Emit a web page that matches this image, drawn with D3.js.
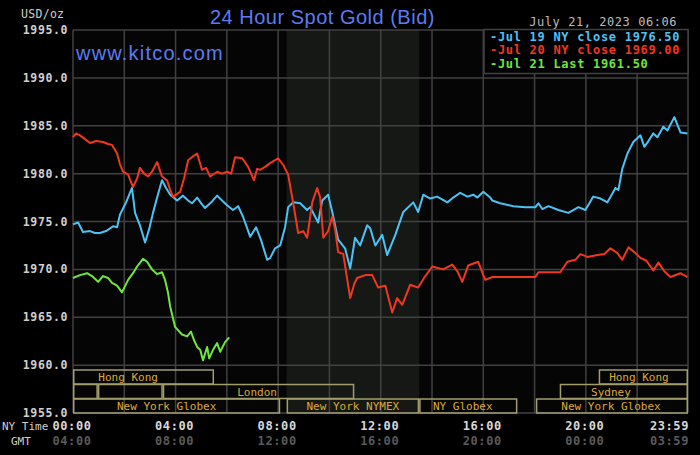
<!DOCTYPE html>
<html>
<head>
<meta charset="utf-8">
<script src="https://cdn.jsdelivr.net/npm/d3@7"></script>
<style>
  html, body { margin: 0; padding: 0; background: #000; }
  svg { display: block; }
</style>
</head>
<body>
<div id="chart"></div>
<script>
// hours are NY time, 0 = 00:00, 23.983 = 23:59
var jul19_hours = [0, 0.2, 0.39, 0.66, 0.86, 1.05, 1.29, 1.56, 1.72, 1.83, 2.07, 2.3, 2.42, 2.61, 2.81, 2.97, 3.12, 3.28, 3.47, 3.63, 3.79, 4.06, 4.29, 4.49, 4.64, 4.84, 5.0, 5.15, 5.39, 5.62, 5.81, 6.01, 6.24, 6.44, 6.63, 6.79, 6.91, 7.14, 7.34, 7.57, 7.69, 7.88, 8.08, 8.27, 8.39, 8.59, 8.86, 9.13, 9.25, 9.56, 9.72, 9.95, 10.11, 10.34, 10.61, 10.81, 11.0, 11.2, 11.47, 11.59, 11.79, 12.06, 12.25, 12.57, 12.88, 13.27, 13.46, 13.66, 13.93, 14.2, 14.6, 14.83, 15.1, 15.38, 15.61, 15.77, 16.0, 16.27, 16.35, 16.66, 17.17, 17.64, 18.03, 18.15, 18.3, 18.54, 18.93, 19.32, 19.71, 19.98, 20.29, 20.57, 20.84, 21.03, 21.15, 21.27, 21.42, 21.62, 21.85, 22.13, 22.28, 22.44, 22.63, 22.79, 23.02, 23.18, 23.45, 23.69, 23.96];
var jul19_values = [1974.7, 1974.9, 1973.9, 1974.0, 1973.8, 1973.8, 1974.0, 1974.5, 1974.4, 1975.7, 1977.0, 1978.5, 1975.9, 1974.6, 1972.8, 1974.2, 1975.9, 1977.5, 1979.3, 1978.5, 1977.8, 1977.2, 1977.7, 1977.2, 1976.9, 1977.5, 1976.9, 1976.4, 1977.0, 1977.7, 1977.2, 1976.7, 1976.2, 1976.6, 1975.5, 1974.3, 1973.4, 1974.4, 1973.0, 1971.0, 1971.2, 1972.2, 1972.5, 1974.4, 1976.5, 1977.0, 1976.9, 1976.2, 1976.5, 1974.9, 1977.2, 1977.8, 1976.0, 1973.1, 1972.2, 1970.1, 1973.3, 1972.5, 1974.6, 1974.3, 1972.5, 1973.6, 1971.5, 1973.6, 1976.0, 1977.0, 1976.0, 1977.8, 1977.4, 1977.6, 1977.0, 1977.5, 1978.0, 1977.6, 1977.8, 1977.5, 1978.1, 1977.5, 1977.2, 1976.9, 1976.6, 1976.5, 1976.5, 1976.9, 1976.3, 1976.6, 1976.2, 1975.9, 1976.5, 1976.2, 1977.6, 1977.4, 1977.0, 1977.9, 1978.5, 1978.3, 1980.5, 1982.1, 1983.3, 1984.0, 1982.8, 1983.4, 1984.2, 1983.8, 1984.9, 1984.5, 1985.9, 1984.3, 1984.2];

var jul20_hours = [0, 0.12, 0.27, 0.47, 0.66, 0.9, 1.17, 1.37, 1.52, 1.72, 1.83, 1.95, 2.15, 2.34, 2.5, 2.61, 2.77, 2.93, 3.08, 3.28, 3.47, 3.67, 3.79, 3.9, 4.18, 4.33, 4.49, 4.68, 4.84, 5.03, 5.19, 5.35, 5.62, 5.81, 6.01, 6.17, 6.32, 6.6, 6.83, 7.06, 7.18, 7.3, 7.49, 7.69, 8.0, 8.2, 8.39, 8.59, 8.78, 8.98, 9.13, 9.33, 9.52, 9.64, 9.76, 9.95, 10.11, 10.22, 10.34, 10.54, 10.69, 10.81, 10.97, 11.08, 11.4, 11.67, 11.9, 12.18, 12.45, 12.64, 12.84, 13.15, 13.46, 13.74, 14.01, 14.44, 14.79, 14.99, 15.18, 15.41, 15.8, 16.0, 16.08, 16.35, 16.94, 17.44, 18.03, 18.15, 18.61, 19.0, 19.28, 19.59, 19.79, 20.06, 20.45, 20.72, 20.96, 21.23, 21.42, 21.66, 21.89, 22.13, 22.36, 22.63, 22.83, 23.06, 23.3, 23.69, 23.96];
var jul20_values = [1983.8, 1984.2, 1984.0, 1983.6, 1983.2, 1983.4, 1983.3, 1983.1, 1983.0, 1982.1, 1981.0, 1980.2, 1979.9, 1978.6, 1979.5, 1980.6, 1980.0, 1979.7, 1980.2, 1981.2, 1979.7, 1979.3, 1978.3, 1977.6, 1978.1, 1979.5, 1981.4, 1981.8, 1982.1, 1980.4, 1980.6, 1979.7, 1980.2, 1980.0, 1980.2, 1980.0, 1981.7, 1981.6, 1980.7, 1979.3, 1980.5, 1980.4, 1980.7, 1981.1, 1981.6, 1980.9, 1979.9, 1976.9, 1973.8, 1974.0, 1973.3, 1977.0, 1978.5, 1977.5, 1973.3, 1974.0, 1975.5, 1974.2, 1971.8, 1971.6, 1969.0, 1967.0, 1968.5, 1969.1, 1969.4, 1969.4, 1968.1, 1968.3, 1965.5, 1967.0, 1966.3, 1968.4, 1968.1, 1969.3, 1970.3, 1970.0, 1970.5, 1969.8, 1968.7, 1970.4, 1970.8, 1969.4, 1968.9, 1969.2, 1969.2, 1969.2, 1969.2, 1969.7, 1969.7, 1969.7, 1970.8, 1971.0, 1971.6, 1971.3, 1971.5, 1971.6, 1972.2, 1971.7, 1971.0, 1972.3, 1971.8, 1971.2, 1970.9, 1969.9, 1970.7, 1969.8, 1969.2, 1969.6, 1969.2];

var jul21_hours = [0, 0.27, 0.55, 0.74, 0.98, 1.17, 1.37, 1.52, 1.72, 1.91, 2.15, 2.34, 2.5, 2.73, 2.89, 3.08, 3.28, 3.47, 3.59, 3.71, 3.79, 3.98, 4.25, 4.45, 4.6, 4.72, 4.84, 4.96, 5.07, 5.23, 5.31, 5.46, 5.62, 5.74, 5.93, 6.09];
var jul21_values = [1969.1, 1969.4, 1969.6, 1969.3, 1968.7, 1969.3, 1969.1, 1968.6, 1968.3, 1967.6, 1968.9, 1969.6, 1970.3, 1971.1, 1970.8, 1970.0, 1969.5, 1969.7, 1968.9, 1967.5, 1966.1, 1964.0, 1963.2, 1963.0, 1963.5, 1962.6, 1961.9, 1961.6, 1960.5, 1961.9, 1960.7, 1961.6, 1962.3, 1961.4, 1962.4, 1962.9];

var series_names  = ["Jul 19 NY close 1976.50", "Jul 20 NY close 1969.00", "Jul 21 Last 1961.50"];
var series_colors = ["#4cc3f5", "#f2371f", "#6ee83a"];

var price_ticks = [1955, 1960, 1965, 1970, 1975, 1980, 1985, 1990, 1995];
var time_ticks  = [0, 4, 8, 12, 16, 20, 23.983];
var ny_labels   = ["00:00", "04:00", "08:00", "12:00", "16:00", "20:00", "23:59"];
var gmt_labels  = ["04:00", "08:00", "12:00", "16:00", "20:00", "00:00", "03:59"];

// NY trading session (shaded)
var ny_session = [8.33, 13.5];

// market sessions: row, start, end, label centre
var sessions = [
    { row: 0, start: 0,     end: 5.5,    label: "Hong Kong",       at: 2.15 },
    { row: 1, start: 0,     end: 0.97,   label: "",                at: 0 },
    { row: 1, start: 0.97,  end: 3.5,    label: "",                at: 0 },
    { row: 1, start: 3.5,   end: 10.97,  label: "London",          at: 7.18 },
    { row: 2, start: 0,     end: 8.08,   label: "New York Globex", at: 3.65 },
    { row: 2, start: 8.33,  end: 13.5,   label: "New York NYMEX",  at: 10.91 },
    { row: 2, start: 13.5,  end: 17.33,  label: "NY Globex",       at: 15.2 },
    { row: 2, start: 18.05, end: 23.983, label: "New York Globex", at: 20.98 },
    { row: 1, start: 18.98, end: 23.983, label: "Sydney",          at: 20.98 },
    { row: 0, start: 20.5,  end: 23.983, label: "Hong Kong",       at: 22.07 }
];

var canWidth = 700;
var canHeight = 455;
var plotLeft = 73, plotRight = 688, plotTop = 30, plotBottom = 413;
var mono = "'DejaVu Sans Mono', 'Liberation Mono', monospace";
var gridColor = "#414141";

var svg = d3.select("#chart")
    .append("svg")
    .attr("width", canWidth)
    .attr("height", canHeight)
    .style("background", "#000");

var x = d3.scaleLinear().domain([0, 23.983]).range([plotLeft, plotRight]);
var y = d3.scaleLinear().domain([1955, 1995]).range([plotBottom, plotTop]);

svg.append("rect")
    .attr("x", plotLeft).attr("y", plotTop)
    .attr("width", plotRight - plotLeft).attr("height", plotBottom - plotTop)
    .attr("fill", "#050505");

svg.append("rect")
    .attr("x", x(ny_session[0])).attr("y", plotTop)
    .attr("width", x(ny_session[1]) - x(ny_session[0]))
    .attr("height", plotBottom - plotTop)
    .attr("fill", "#151815");

// grid
svg.append("g")
    .selectAll("line")
    .data(price_ticks)
    .enter()
    .append("line")
    .attr("x1", plotLeft).attr("x2", plotRight)
    .attr("y1", function (d) { return y(d); })
    .attr("y2", function (d) { return y(d); })
    .attr("stroke", gridColor)
    .attr("stroke-width", 1.5);

svg.append("g")
    .selectAll("line")
    .data(d3.range(0, 25, 2))
    .enter()
    .append("line")
    .attr("x1", function (d) { return x(Math.min(d, 23.983)); })
    .attr("x2", function (d) { return x(Math.min(d, 23.983)); })
    .attr("y1", plotTop).attr("y2", plotBottom)
    .attr("stroke", gridColor)
    .attr("stroke-width", 1.5);

// price labels
svg.append("g")
    .selectAll("text")
    .data(price_ticks)
    .enter()
    .append("text")
    .attr("x", 68)
    .attr("y", function (d) { return y(d) + 4; })
    .attr("text-anchor", "end")
    .attr("font-family", mono)
    .attr("font-weight", "bold")
    .attr("font-size", 11.5)
    .attr("letter-spacing", 0.6)
    .attr("fill", "#d0d0d0")
    .text(function (d) { return d3.format(".1f")(d); });

svg.append("text")
    .attr("x", 21).attr("y", 18)
    .attr("font-family", mono)
    .attr("font-size", 11.5)
    .attr("letter-spacing", 0.3)
    .attr("fill", "#cfcfcf")
    .text("USD/oz");

// sessions
var rowTop = [370, 384.5, 399];
var rowH = 14;

var sess = svg.append("g")
    .selectAll("g")
    .data(sessions)
    .enter()
    .append("g");

sess.append("rect")
    .attr("x", function (d) { return x(d.start) + 0.75; })
    .attr("y", function (d) { return rowTop[d.row]; })
    .attr("width", function (d) { return x(d.end) - x(d.start) - 1.5; })
    .attr("height", rowH)
    .attr("fill", "none")
    .attr("stroke", "#a39d6c")
    .attr("stroke-width", 1.5);

sess.append("text")
    .attr("x", function (d) { return x(d.at); })
    .attr("y", function (d) { return rowTop[d.row] + 11; })
    .attr("text-anchor", "middle")
    .attr("font-family", mono)
    .attr("font-size", 11)
    .attr("fill", "#dcaa38")
    .text(function (d) { return d.label; });

// price lines
var line = d3.line()
    .x(function (d) { return x(d[0]); })
    .y(function (d) { return y(d[1]); });

var all_series = [
    d3.zip(jul19_hours, jul19_values),
    d3.zip(jul20_hours, jul20_values),
    d3.zip(jul21_hours, jul21_values)
];

svg.append("g")
    .selectAll("path")
    .data(all_series)
    .enter()
    .append("path")
    .attr("d", line)
    .attr("fill", "none")
    .attr("stroke", function (d, i) { return series_colors[i]; })
    .attr("stroke-width", 2)
    .attr("stroke-linejoin", "round");

// time axis
var axis = svg.append("g");
var last = time_ticks.length - 1;

axis.selectAll(".ny")
    .data(time_ticks)
    .enter()
    .append("text")
    .attr("class", "ny")
    .attr("x", function (d, i) { return i == last ? plotRight + 1 : x(d) - 1; })
    .attr("y", 430)
    .attr("text-anchor", function (d, i) { return i == last ? "end" : "middle"; })
    .attr("font-family", mono)
    .attr("font-weight", "bold")
    .attr("font-size", 12)
    .attr("letter-spacing", 0.6)
    .attr("fill", "#d8d8d8")
    .text(function (d, i) { return ny_labels[i]; });

axis.selectAll(".gmt")
    .data(time_ticks)
    .enter()
    .append("text")
    .attr("class", "gmt")
    .attr("x", function (d, i) { return i == last ? plotRight + 1 : x(d) - 1; })
    .attr("y", 445)
    .attr("text-anchor", function (d, i) { return i == last ? "end" : "middle"; })
    .attr("font-family", mono)
    .attr("font-weight", "bold")
    .attr("font-size", 12)
    .attr("letter-spacing", 0.6)
    .attr("fill", "#5a5a5a")
    .text(function (d, i) { return gmt_labels[i]; });

axis.append("text")
    .attr("x", 2).attr("y", 430)
    .attr("font-family", mono)
    .attr("font-size", 11)
    .attr("fill", "#cfcfcf")
    .text("NY Time");

axis.append("text")
    .attr("x", 11).attr("y", 445)
    .attr("font-family", mono)
    .attr("font-size", 11)
    .attr("fill", "#cfcfcf")
    .text("GMT");

// titles
svg.append("text")
    .attr("x", 210).attr("y", 24)
    .attr("font-family", "'Liberation Sans', Arial, sans-serif")
    .attr("font-size", 20)
    .attr("letter-spacing", 0.5)
    .attr("fill", "#5b7cf2")
    .text("24 Hour Spot Gold (Bid)");

svg.append("text")
    .attr("x", 76).attr("y", 60)
    .attr("font-family", "'Liberation Sans', Arial, sans-serif")
    .attr("font-size", 20)
    .attr("letter-spacing", 1.2)
    .attr("fill", "#5b7cf2")
    .text("www.kitco.com");

svg.append("text")
    .attr("x", 677).attr("y", 26)
    .attr("text-anchor", "end")
    .attr("font-family", mono)
    .attr("font-size", 12)
    .attr("letter-spacing", 0.55)
    .attr("fill", "#bdbdbd")
    .text("July 21, 2023 06:06");

// legend
var legend = svg.append("g");

legend.append("rect")
    .attr("x", 484).attr("y", 29.5)
    .attr("width", plotRight - 484).attr("height", 44)
    .attr("fill", "#000")
    .attr("stroke", gridColor)
    .attr("stroke-width", 1.5);

legend.selectAll("text")
    .data(series_names)
    .enter()
    .append("text")
    .attr("x", 490)
    .attr("y", function (d, i) { return 41 + i * 13.3; })
    .attr("font-family", mono)
    .attr("font-weight", "bold")
    .attr("font-size", 12)
    .attr("letter-spacing", 0.7)
    .attr("fill", function (d, i) { return series_colors[i]; })
    .text(function (d) { return "-" + d; });
</script>
</body>
</html>
